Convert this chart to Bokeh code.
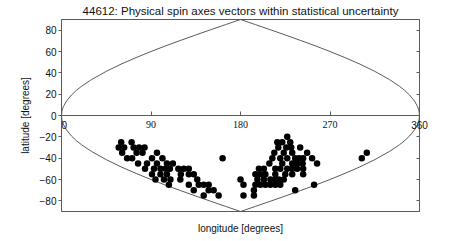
from bokeh.plotting import figure
from bokeh.models import Range1d, LinearAxis, FixedTicker, LabelSet, Label, ColumnDataSource
from bokeh.embed import file_html
from bokeh.resources import INLINE

title_text = "44612: Physical spin axes vectors within statistical uncertainty"
x_label = "longitude [degrees]"
y_label = "latitude [degrees]"
x_ticks = [0, 90, 180, 270, 360]
x_tick_labels = ["0", "90", "180", "270", "360"]
y_ticks = [-80, -60, -40, -20, 0, 20, 40, 60, 80]
y_tick_labels = ["\u221280", "\u221260", "\u221240", "\u221220", "0", "20", "40", "60", "80"]

# boundary of the admissible region
bound_lon = [0, 0.5, 1, 2, 5, 10, 15, 20, 30, 45, 60, 75, 90, 105, 120, 135, 150, 165, 180,
             195, 210, 225, 240, 255, 270, 285, 300, 315, 330, 340, 345, 350, 355, 358, 359, 359.5, 360]
bound_upper = [0, 4.3, 6.0, 8.5, 13.5, 19.2, 23.6, 27.3, 33.6, 41.4, 48.2, 54.3, 60.0, 65.4, 70.5, 75.5, 80.4, 85.2, 90,
               85.2, 80.4, 75.5, 70.5, 65.4, 60.0, 54.3, 48.2, 41.4, 33.6, 27.3, 23.6, 19.2, 13.5, 8.5, 6.0, 4.3, 0]
bound_lower = [0, -4.3, -6.0, -8.5, -13.5, -19.2, -23.6, -27.3, -33.6, -41.4, -48.2, -54.3, -60.0, -65.4, -70.5, -75.5, -80.4, -85.2, -90,
               -85.2, -80.4, -75.5, -70.5, -65.4, -60.0, -54.3, -48.2, -41.4, -33.6, -27.3, -23.6, -19.2, -13.5, -8.5, -6.0, -4.3, 0]

# spin axis vectors (longitude, latitude)
vec_lon = [60, 70.5,
           57.5, 63, 72.5, 78, 83.5,
           61, 75.5, 81.5, 96,
           66, 71, 91, 101.5,
           77, 86, 96, 106, 112,
           84, 93, 99.5, 104.5, 109, 117.5, 123, 128,
           91, 99.5, 106, 120, 128, 133,
           94.5, 103, 109.5, 119.5, 136.5,
           108, 128, 138, 143, 148,
           133, 148, 153,
           143, 158,
           162,
           227,
           217, 222, 230,
           218, 226, 231, 240,
           214, 223.5, 232, 247,
           212, 220, 227, 235, 239, 243, 252,
           209, 222, 232, 237, 242.5, 257,
           198.5, 203.5, 215, 220, 227, 232, 237, 243,
           195, 200, 205, 215, 225, 232, 243,
           180, 197, 203.5, 210, 215, 218.5, 223.5,
           183, 195, 200, 205, 210, 215, 220, 254,
           193.5, 235,
           183, 193.5,
           302, 307]
vec_lat = [-25, -25,
           -30, -30, -30, -30, -30,
           -35, -35, -35, -35,
           -40, -40, -40, -40,
           -45, -45, -45, -45, -45,
           -50, -50, -50, -50, -50, -50, -50, -50,
           -55, -55, -55, -55, -55, -55,
           -60, -60, -60, -60, -60,
           -65, -65, -65, -65, -65,
           -70, -70, -70,
           -75, -75,
           -40,
           -20,
           -25, -25, -25,
           -30, -30, -30, -30,
           -35, -35, -35, -35,
           -40, -40, -40, -40, -40, -40, -40,
           -45, -45, -45, -45, -45, -45,
           -50, -50, -50, -50, -50, -50, -50, -50,
           -55, -55, -55, -55, -55, -55, -55,
           -60, -60, -60, -60, -60, -60, -60,
           -65, -65, -65, -65, -65, -65, -65, -65,
           -70, -70,
           -75, -75,
           -40, -35]

FONT = "Liberation Sans"
GRAY = "#5a5a5a"
TXT = "#111111"

p = figure(width=447, height=236, output_backend="svg", toolbar_location=None,
           x_range=Range1d(0, 360), y_range=Range1d(-90, 90),
           min_border_left=61, min_border_right=28, min_border_top=19, min_border_bottom=23)

p.background_fill_color = "white"
p.border_fill_color = "white"
p.outline_line_color = GRAY
p.outline_line_width = 1
p.grid.visible = False

p.title.text = title_text
p.title.align = "center"
p.title.vertical_align = "top"
p.title.text_font = FONT
p.title.text_font_size = "11.5px"
p.title.text_font_style = "normal"
p.title.text_color = TXT
p.title.standoff = 2

# right-hand y axis (tick marks only), closest to the frame
yr = LinearAxis(ticker=FixedTicker(ticks=y_ticks))
yr.major_label_overrides = {t: "" for t in y_ticks}
yr.axis_line_color = GRAY
yr.major_tick_line_color = GRAY
yr.major_tick_in = 3
yr.major_tick_out = 0
yr.minor_tick_line_color = None
yr.major_label_standoff = 0
p.add_layout(yr, "right")

# x axis drawn along latitude 0 (tick marks); its labels are drawn as annotations
xa = p.xaxis[0]
xa.fixed_location = 0
xa.ticker = FixedTicker(ticks=x_ticks)
xa.major_label_overrides = {t: "" for t in x_ticks}
xa.axis_line_color = GRAY
xa.major_tick_line_color = GRAY
xa.major_tick_in = 4
xa.major_tick_out = 0
xa.minor_tick_line_color = None

lab_style = dict(text_baseline="top", y_offset=-5, text_font=FONT,
                 text_font_size="10px", text_color=TXT)

xlab_src = ColumnDataSource(dict(x=x_ticks[1:-1], y=[0] * (len(x_ticks) - 2), text=x_tick_labels[1:-1]))
p.add_layout(LabelSet(x="x", y="y", text="text", source=xlab_src, text_align="center", **lab_style))
p.add_layout(Label(x=x_ticks[0], y=0, text=x_tick_labels[0], text_align="left", **lab_style))
p.add_layout(Label(x=x_ticks[-1], y=0, text=x_tick_labels[-1], text_align="center", **lab_style), "right")

# x axis title below the frame
xl = LinearAxis(axis_label=x_label, ticker=FixedTicker(ticks=[]))
xl.axis_line_color = None
xl.major_tick_line_color = None
xl.minor_tick_line_color = None
xl.major_tick_in = 0
xl.major_tick_out = 0
xl.major_label_standoff = 0
xl.axis_label_standoff = 11
xl.axis_label_text_font = FONT
xl.axis_label_text_font_size = "10px"
xl.axis_label_text_font_style = "normal"
xl.axis_label_text_color = TXT
p.add_layout(xl, "below")

ya = p.yaxis[0]
ya.ticker = FixedTicker(ticks=y_ticks)
ya.major_label_overrides = {t: s for t, s in zip(y_ticks, y_tick_labels)}
ya.axis_label = y_label
ya.axis_line_color = GRAY
ya.major_tick_line_color = GRAY
ya.major_tick_in = 0
ya.major_tick_out = 3
ya.minor_tick_line_color = None
ya.major_label_standoff = 2
ya.major_label_text_font = FONT
ya.major_label_text_font_size = "10px"
ya.major_label_text_color = TXT
ya.axis_label_standoff = 6
ya.axis_label_text_font = FONT
ya.axis_label_text_font_size = "10px"
ya.axis_label_text_font_style = "normal"
ya.axis_label_text_color = TXT

p.line(bound_lon, bound_upper, line_color=GRAY, line_width=1)
p.line(bound_lon, bound_lower, line_color=GRAY, line_width=1)

p.scatter(vec_lon, vec_lat, size=6.5, fill_color="black", line_color=None)

open("out.html", "w").write(file_html(p, INLINE))
